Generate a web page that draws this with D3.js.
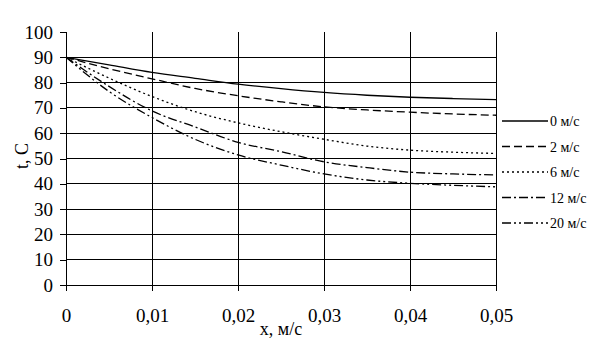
<!DOCTYPE html>
<html>
<head>
<meta charset="utf-8">
<script src="https://cdn.jsdelivr.net/npm/d3@7"></script>
<style>
  body { margin: 0; background: #fff; }
  text { font-family: "Liberation Serif", "DejaVu Serif", serif; fill: #000; }
</style>
</head>
<body>
<script>
// x positions along the plate, m
var xs = [0, 0.005, 0.01, 0.015, 0.02, 0.025, 0.03, 0.035, 0.04, 0.045, 0.05];

// temperature for each air speed
var t0  = [90, 87.0, 84.0, 81.7, 79.4, 77.6, 76.1, 75.0, 74.2, 73.7, 73.3];
var t2  = [90, 85.5, 81.5, 77.7, 74.8, 72.4, 70.4, 69.2, 68.3, 67.6, 67.1];
var t6  = [90, 81.8, 74.5, 68.5, 64.1, 60.6, 57.6, 54.9, 53.3, 52.5, 52.0];
var t12 = [90, 78.5, 68.8, 62.5, 56.4, 52.7, 48.7, 46.4, 44.6, 43.9, 43.5];
var t20 = [90, 76.5, 66.2, 57.6, 51.4, 47.4, 43.9, 41.5, 40.2, 39.4, 38.8];

var names = ['0 м/с', '2 м/с', '6 м/с', '12 м/с', '20 м/с'];
var dashes = ['none', '8,4', '2,3', '9,3,2,3', '9,3,2,3,2,3'];
var series = [t0, t2, t6, t12, t20];

var xTicks = [0, 0.01, 0.02, 0.03, 0.04, 0.05];
var yTicks = [0, 10, 20, 30, 40, 50, 60, 70, 80, 90, 100];

var margin = {top: 32, right: 109, bottom: 68, left: 66},
    width = 605 - margin.left - margin.right,
    height = 353 - margin.top - margin.bottom;

var svg = d3.select('body').append('svg')
  .attr('width', 605)
  .attr('height', 353);

var g = svg.append('g')
  .attr('transform', 'translate(' + margin.left + ',' + margin.top + ')');

var x = d3.scaleLinear().domain([0, 0.05]).range([0, width]);
var y = d3.scaleLinear().domain([0, 100]).range([height, 0]);

var fmtX = function(d) { return d === 0 ? '0' : d3.format('.2f')(d).replace('.', ','); };

// horizontal grid (no line at 100)
g.selectAll('.hgrid')
  .data(yTicks.filter(function(d) { return d < 100; }))
  .enter().append('line')
  .attr('x1', 0).attr('x2', width)
  .attr('y1', function(d) { return y(d); })
  .attr('y2', function(d) { return y(d); })
  .attr('stroke', '#000').attr('stroke-width', 1)
  .attr('shape-rendering', 'crispEdges');

// vertical grid
g.selectAll('.vgrid')
  .data(xTicks)
  .enter().append('line')
  .attr('x1', function(d) { return x(d); })
  .attr('x2', function(d) { return x(d); })
  .attr('y1', 0).attr('y2', height)
  .attr('stroke', '#000').attr('stroke-width', 1)
  .attr('shape-rendering', 'crispEdges');

// axes
var xAxis = d3.axisBottom(x).tickValues(xTicks).tickFormat(fmtX).tickSize(6).tickPadding(18);
var yAxis = d3.axisLeft(y).tickValues(yTicks).tickSize(6).tickPadding(7);

var gx = g.append('g').attr('transform', 'translate(0,' + height + ')').call(xAxis);
var gy = g.append('g').call(yAxis);
[gx, gy].forEach(function(a) {
  a.select('.domain').remove();
  a.selectAll('line').attr('stroke', '#000').attr('shape-rendering', 'crispEdges');
  a.selectAll('text').style('font-size', '19px').style('font-family', '"Liberation Serif", serif');
});

// curves
var line = d3.line()
  .x(function(d, i) { return x(xs[i]); })
  .y(function(d) { return y(d); })
  .curve(d3.curveMonotoneX);

g.selectAll('.curve')
  .data(series)
  .enter().append('path')
  .attr('d', line)
  .attr('fill', 'none')
  .attr('stroke', '#000')
  .attr('stroke-width', 1.3)
  .attr('stroke-dasharray', function(d, i) { return dashes[i]; });

// axis titles
svg.append('text')
  .attr('x', 281).attr('y', 335)
  .attr('text-anchor', 'middle')
  .style('font-size', '18px')
  .text('x, м/с');

svg.append('text')
  .attr('transform', 'translate(28,156) rotate(-90)')
  .attr('text-anchor', 'middle')
  .style('font-size', '18px')
  .text('t, C');

// legend
var leg = svg.append('g').selectAll('g')
  .data(names)
  .enter().append('g')
  .attr('transform', function(d, i) { return 'translate(502,' + (121 + i * 25.5) + ')'; });

leg.append('line')
  .attr('x1', 0).attr('x2', 46)
  .attr('stroke', '#000').attr('stroke-width', 1.3)
  .attr('stroke-dasharray', function(d, i) { return dashes[i]; });

leg.append('text')
  .attr('x', 48).attr('y', 5)
  .style('font-size', '14px')
  .text(function(d) { return d; });
</script>
</body>
</html>
